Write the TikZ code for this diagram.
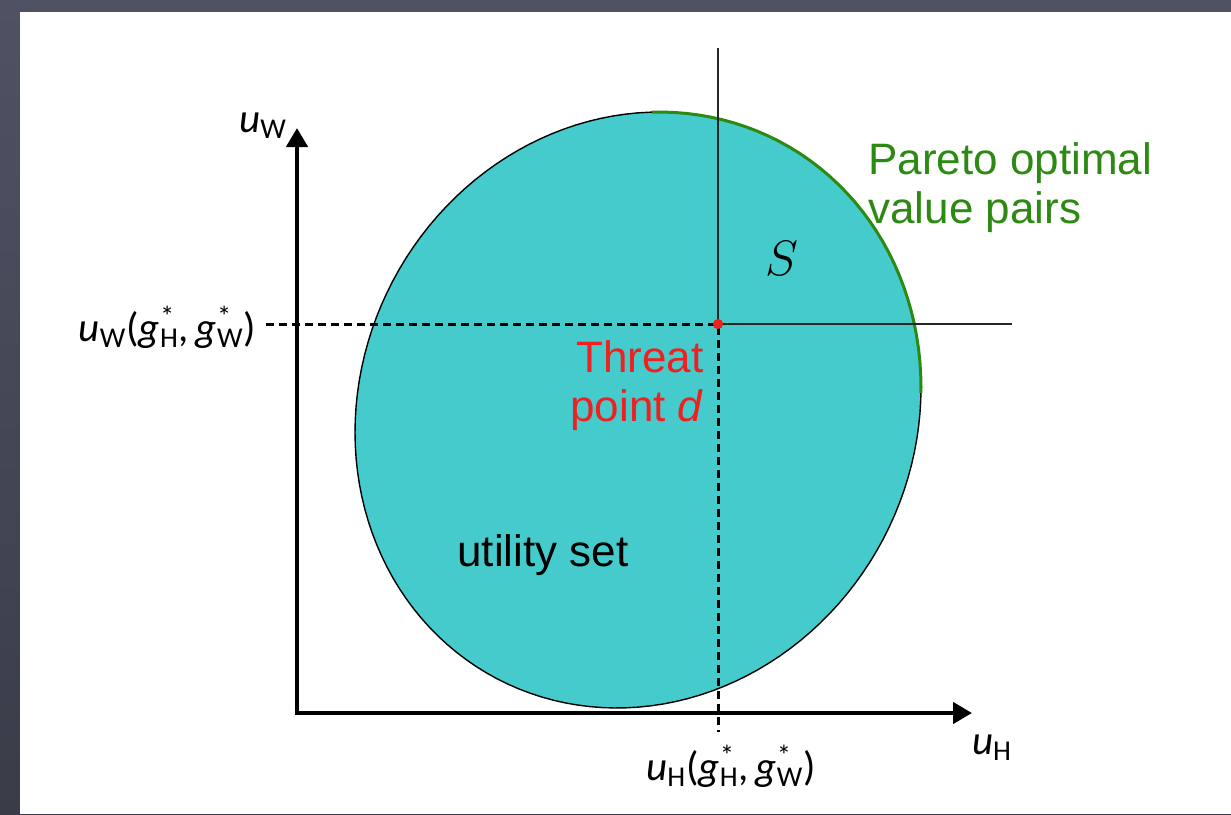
\documentclass[tikz,border=0pt]{standalone}
\usepackage{fontspec}
\setmainfont{Liberation Sans}
\newfontfamily\calfont{Carlito}
\usetikzlibrary{arrows.meta}
\definecolor{UTeal}{HTML}{45CBCB}
\definecolor{UGreen}{HTML}{2C8A12}
\definecolor{URed}{HTML}{F02020}
\definecolor{UGreyTop}{HTML}{4E5263}
\definecolor{UGreyBot}{HTML}{3A3D48}
\newcommand{\gstar}[1]{\textit{g}\rlap{\textsuperscript{*}}\textsubscript{#1}}

\begin{document}
\begin{tikzpicture}[x=0.5pt,y=-0.5pt,
  axis/.style={line width=2.2pt,-{Triangle[length=9.5pt,width=10.5pt]}},
  guide/.style={line width=1.5pt,dash pattern=on 4pt off 2.5pt},
  cross/.style={line width=1pt,black!85},
  lbl/.style={inner sep=0pt,font=\calfont\fontsize{20.5}{23}\selectfont},
  txt/.style={inner sep=0pt,font=\fontsize{22}{24.5}\selectfont}]
\path[use as bounding box] (0,0) rectangle (1231,814);
\shade[top color=UGreyTop,bottom color=UGreyBot] (0,0) rectangle (1231,814);
\fill[white] (20,12) rectangle (1231,814);
% utility set (tilted ellipse)
\path[save path=\blobpath] plot[domain=0:360,samples=145,variable=\t]
  ({638+303.5*cos(-62.3)*cos(\t)-277.1*sin(-62.3)*sin(\t)},
   {410+303.5*sin(-62.3)*cos(\t)+277.1*cos(-62.3)*sin(\t)}) -- cycle;
\fill[UTeal,draw=black,line width=0.7pt,use path=\blobpath];
\begin{scope}
\clip (652,0) rectangle (1231,392);
\draw[UGreen,line width=1.5pt,use path=\blobpath];
\end{scope}
% points
\coordinate (O) at (297,713);
\coordinate (ytip) at (297,128);
\coordinate (xtip) at (972,713);
\coordinate (ctop) at (718,48);
\coordinate (cright) at (1012,324);
\coordinate (dend) at (718,732);
\node[circle,fill=URed,inner sep=0pt,minimum size=5pt] (d) at (718,324) {};
% labels
\node[lbl] (uw) at (263,126) {\textit{u}\textsubscript{W}};
\node[lbl] (uh) at (992,748) {\textit{u}\textsubscript{H}};
\node[lbl,anchor=east,outer xsep=5pt] (uwg) at (266,327)
  {\textit{u}\textsubscript{W}(\gstar{H},\,\gstar{W})};
\node[lbl] (uhg) at (731,766) {\textit{u}\textsubscript{H}(\gstar{H},\,\gstar{W})};
\node[txt,URed,align=right,anchor=north east] (threat) at (704,340)
  {Threat\\point \textit{d}};
\node[inner sep=0pt,font=\fontsize{24}{26}\selectfont] (s) at (782,258) {$S$};
\node[txt] (uset) at (543,555) {utility set};
\node[txt,UGreen,align=left,anchor=north west] (pareto) at (868,142)
  {Pareto optimal\\value pairs};
% lines
\draw[cross] (ctop) -- (d.center) -- (cright);
\draw[guide] (uwg.east |- d) -- (d.center) -- (dend);
\draw[axis] (O) -- (ytip);
\draw[axis] ([xshift=-1.1pt]O) -- (xtip);
\node[circle,fill=URed,inner sep=0pt,minimum size=5pt] at (d) {};
\end{tikzpicture}
\end{document}
